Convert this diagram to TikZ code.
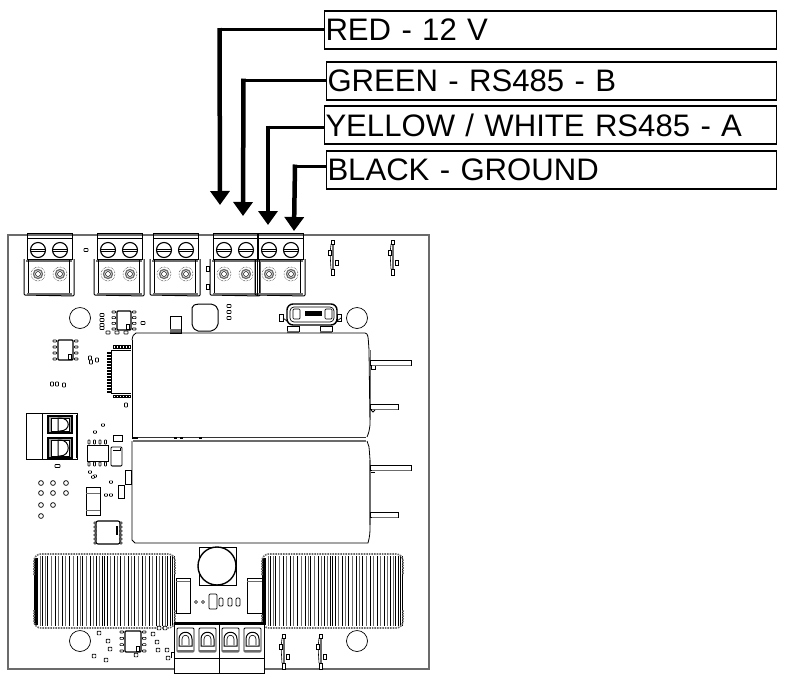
\documentclass[tikz,border=0pt]{standalone}
\usepackage{fontspec}
\setmainfont{Liberation Sans}
\usepackage{tikz}
\usetikzlibrary{arrows.meta, positioning, calc}
\definecolor{frameGray}{gray}{0.42}
\tikzset{
    labelbox/.style={draw,line width=1.6pt,rectangle,anchor=west,outer sep=0pt,minimum width=452,minimum height=38,inner xsep=0.5pt,inner ysep=1pt,text width=450,align=left,font=\fontsize{31.1}{36}\selectfont},
    wire/.style={line width=3pt,-},
    drop/.style={line width=4.5pt,-{Triangle[length=14pt,width=19pt]}},
    part/.style={draw,line width=0.7pt,fill=white},
    pad/.style={draw,line width=0.6pt,fill=white,rounded corners=0.5pt}
}
% two way screw terminal, #1 is the left edge
\newcommand{\termblock}[1]{
    \begin{scope}[shift={(#1,0)}]
        \draw[line width=0.9pt] (0,233) rectangle (45,259);
        \draw[line width=0.8pt] (0,238) -- (45,238);
        \draw[line width=1pt,rounded corners=1pt] (-3,259) -- (-3,295) -- (47,296) -- (47,259);
        \draw[frameGray,line width=2.5pt] (-1,261) -- (45,261);
        \draw[line width=0.7pt] (1,260) -- (1,295) (42,260) -- (42,295);
        \draw[frameGray,line width=1.2pt] (0,294) -- (45,294);
        \foreach \sx in {11,33} {
            \draw[line width=1.1pt] (\sx,250) circle (7.5);
            \draw[line width=1pt] (\sx-7,249) -- (\sx+7,249) (\sx-7,251) -- (\sx+7,251);
            \draw[line width=0.5pt,densely dotted] (\sx,274) circle (7);
            \draw[frameGray,line width=1.3pt] (\sx,274) circle (4.5);
            \draw[line width=0.5pt] (\sx,274) circle (2.5);
        }
    \end{scope}
}
% eight pin chip with pads left and right
\newcommand{\chipside}[5]{
    \draw[line width=1.1pt,rounded corners=1pt] (#1,#2) rectangle (#3,#4);
    \foreach \k in {0,1,2,3} {
        \draw[pad] ({#1-5},{#2+1+\k*(#4-#2-2)/3-1}) rectangle ({#1-1.5},{#2+1+\k*(#4-#2-2)/3+1});
        \draw[pad] ({#3+1.5},{#2+1+\k*(#4-#2-2)/3-1}) rectangle ({#3+5},{#2+1+\k*(#4-#2-2)/3+1});
    }
    \draw[line width=0.5pt] ({#3-5},{#4-6}) rectangle ({#3-2},{#4-1});
}
% winding of the coil, #1 is the left edge
\newcommand{\coil}[1]{
    \begin{scope}[shift={(#1,0)}]
        \foreach \wx in {0,0.9,...,4} \draw[line width=0.6pt] (\wx,558) -- (\wx,625);
        \foreach \wx in {8,13,21,28,35,43,48,56,62,68,70.5,73,80,86,94,100,108,115,122,128,133,136,138,140}
            \draw[line width=0.5pt] (\wx,556) -- (\wx,626);
        \foreach \wx in {6,11,17,24,31,39,46,52,59,65,76,83,90,97,104,111,118,125,131}
            \draw[frameGray,line width=0.6pt] (\wx,556) -- (\wx,626);
        \draw[frameGray,line width=1.6pt,densely dotted,rounded corners=7pt] (0,575) -- (0,554) -- (141,554) -- (141,575);
        \draw[frameGray,line width=1.6pt,densely dotted,rounded corners=7pt] (0,610) -- (0,628) -- (141,628) -- (141,610);
    \end{scope}
}
% small mounted diode on its pads
\newcommand{\diode}[2]{
    \begin{scope}[shift={(#1,#2)}]
        \draw[line width=1.5pt,frameGray] (0,2) -- (0,30);
        \draw[line width=0.6pt] (-2,3) .. controls (-3,12) .. (-2,28);
        \draw[part] (-1.5,-1) rectangle (1.5,3);
        \draw[part] (-5,9) rectangle (-2,14);
        \draw[part] (2,19) rectangle (5,24);
        \draw[part] (-1.5,28) rectangle (1.5,34);
    \end{scope}
}
\begin{document}
\begin{tikzpicture}[x=1pt,y=-1pt]
    \useasboundingbox (0,0) rectangle (788,681);
    \fill[white] (0,0) rectangle (788,681);

    \node[labelbox] (red) at (324.5,30) {RED - 12 V};
    \node[labelbox,minimum width=450,text width=448] (green) at (326.5,81) {GREEN - RS485 - B};
    \node[labelbox] (yellow) at (324.5,125) {YELLOW / WHITE RS485 - A};
    \node[labelbox,minimum width=450,text width=448] (black) at (326.5,170) {BLACK - GROUND};

    \coordinate (redtip) at (220,205);
    \coordinate (greentip) at (243,216);
    \coordinate (yellowtip) at (268,225);
    \coordinate (blacktip) at (294,231);
    \coordinate (redbend) at (219.5,29.5);
    \coordinate (greenbend) at (243.5,80);
    \coordinate (yellowbend) at (268,127);
    \coordinate (blackbend) at (295,166);

    \draw[wire] (red.west |- redbend) -- ($(redbend)+(-1.5,0)$);
    \draw[wire] (green.west |- greenbend) -- ($(greenbend)+(-1.5,0)$);
    \draw[wire] (yellow.west |- yellowbend) -- ($(yellowbend)+(-1.5,0)$);
    \draw[wire] (black.west |- blackbend) -- ($(blackbend)+(-1.5,0)$);
    \draw[drop] ($(redbend)+(0,-1.5)$) -- (redtip);
    \draw[drop] ($(greenbend)+(0,-1.5)$) -- (greentip);
    \draw[drop] ($(yellowbend)+(0,-1.5)$) -- (yellowtip);
    \draw[drop] ($(blackbend)+(0,-1.5)$) -- (blacktip);

    % board
    \draw[frameGray,line width=1.8pt] (8,235) rectangle (429,669);
    \foreach \bx in {27,97,153,213,258} \termblock{\bx}
    \draw[line width=0.8pt] (257.5,233) -- (257.5,296);

    \foreach \hx/\hy in {80/318,357/318,80/641,357/641} \draw[line width=0.7pt] (\hx,\hy) circle (10.5);

    \diode{333}{241} \diode{393}{241} \diode{284}{635} \diode{321}{635}

    % top row parts
    \chipside{117}{311}{131}{330}{icA}
    \chipside{58}{340}{73}{360}{icB}
    \chipside{125}{631}{141}{652}{icC}
    \draw[line width=1pt,rounded corners=2pt] (192,306) -- (197,304) -- (213,304) -- (218,308) -- (218,326) -- (213,331) -- (196,331) -- (192,326) -- cycle;
    \draw[part] (170,316) rectangle (181,333);
    \fill[frameGray] (170,329) rectangle (181,333);
    \foreach \px/\py in {86/250,102/315,102/320,102/325,102/328,229/306,229/312,229/318,143/323} \draw[pad] (\px-2,\py-1.5) rectangle (\px+2,\py+1.5);
    \foreach \px in {108,117,126} \draw[pad] (\px-2,331) rectangle (\px+2,334);
    \foreach \py in {266,284} \draw[part] (206,\py) rectangle (209,\py+5);

    % crystal
    \draw[line width=1.4pt,rounded corners=6pt] (287,304) rectangle (337,325);
    \draw[line width=0.7pt,rounded corners=4pt] (290,307) rectangle (334,322);
    \draw[part,rounded corners=1pt] (293,309) rectangle (300,319);
    \draw[part,rounded corners=1pt] (325,309) rectangle (332,319);
    \fill (305,311) rectangle (322,316);
    \draw[part] (279,314) rectangle (283,321);
    \draw[part] (337,314) rectangle (341,321);
    \draw[line width=0.7pt] (287,321) -- (283,318) (337,321) -- (341,318);
    \foreach \lx in {287,320} {
        \draw[part] (\lx,326) rectangle (\lx+12,331);
        \fill[frameGray] (\lx,331) rectangle (\lx+12,333);
    }

    % film capacitors
    \draw[line width=0.8pt] (132,340) .. controls (133,335) .. (136,333) -- (365,333) .. controls (368,334) .. (369,350) -- (370,425) .. controls (369,432) .. (367,437);
    \draw[frameGray,line width=1pt] (370,350) -- (370,420);
    \draw[line width=0.8pt] (132,340) -- (132,437);
    \draw[line width=1pt,black!80] (133,437) -- (366,437);
    \draw[frameGray,line width=1.4pt] (133,441) -- (366,441);
    \draw[line width=0.8pt] (367,441) .. controls (369,445) .. (370,460) -- (370,520) .. controls (370,535) .. (368,543) -- (135,543) -- (132,540) -- (132,441);
    \draw[frameGray,line width=1.2pt] (370,460) -- (370,525);
    \foreach \py/\pe in {363/411,407/398,468/411,515/398} {
        \draw[line width=0.7pt,fill=white] (370,\py-2.5) rectangle (\pe,\py+2.5);
        \draw[frameGray,line width=0.8pt] (372,\py+2.5) -- (\pe,\py+2.5);
    }
    \draw[line width=0.8pt] (371,366) -- (371,369) -- (375,369) -- (375,366);
    \draw[line width=0.8pt] (371,410) -- (373,412) -- (375,410);
    \draw[line width=0.8pt] (371,472) -- (375,472);
    \foreach \nx/\ny in {132/438,135/438,174/438,180/438,199/438} \fill (\nx,\ny-1) rectangle (\nx+3,\ny+1);

    % driver beside the capacitors
    \draw[line width=0.9pt] (111,351) -- (111,393) -- (131,393);
    \foreach \py in {352,355,...,391} \draw[line width=0.5pt] (107,\py) rectangle (110,\py+1.6);
    \foreach \px in {113,116,...,128} {
        \draw[line width=0.5pt] (\px,345) rectangle (\px+2,348);
        \draw[line width=0.5pt] (\px,395) rectangle (\px+2,397);
    }
    \draw[line width=1pt] (111,350) -- (131,350);
    \foreach \px/\py in {90/358,91/362,97/360,64/385,57/384,52/384,126/405} \draw[pad] (\px-1.5,\py-2) rectangle (\px+1.5,\py+2);

    % two way plug on the left
    \draw[line width=0.9pt] (26,413) rectangle (77,459);
    \draw[line width=0.9pt] (42,413) -- (42,459);
    \fill (76,415) rectangle (78,458);
    \foreach \sy/\se in {416/433,438/458} {
        \draw[line width=1.1pt,fill=black!35] (48,\sy) rectangle (72,\se);
        \draw[line width=0.6pt,fill=white] (51,\sy+2) rectangle (69,\se-2);
        \draw[line width=1pt] (58,\sy+2) -- (60,\sy+2) .. controls (71,\sy+2) and (71,\se-2) .. (60,\se-2) -- (58,\se-2) -- cycle;
    }
    \draw[pad] (55,464.5) rectangle (60,467.5);

    \foreach \hx/\hy in {41/483,53/483,66/483,41/493,53/493,66/493,41/505,53/505,41/516} \draw[line width=0.7pt] (\hx,\hy) circle (2.4);

    % parts in the middle column
    \draw[line width=1pt] (87,445) rectangle (108,461);
    \foreach \px in {89,94.5,100,105.5} {
        \draw[pad] (\px-1,440) rectangle (\px+1,444);
        \draw[pad] (\px-1,462) rectangle (\px+1,466);
    }
    \draw[line width=1pt] (113,435) rectangle (122,441);
    \draw[line width=0.8pt,rounded corners=1pt] (111,447) rectangle (122,466);
    \fill[frameGray] (112,465) rectangle (121,467);
    \draw[line width=0.8pt] (113,450) -- (120,450) -- (120,448);
    \draw[line width=0.8pt] (86,487) rectangle (100,515);
    \draw[frameGray,line width=0.8pt] (86,493) -- (100,493) (86,510) -- (100,510);
    \draw[part] (118,485) rectangle (124,498);
    \draw[part] (125,470) rectangle (131,484);
    \foreach \px/\py in {95/432,103/425,95/476,90/472,93/477,106/495,111/482,111/495} \draw[pad] (\px-1.5,\py-1.2) rectangle (\px+1.5,\py+1.2);

    % power chip
    \draw[line width=1.1pt,rounded corners=2pt] (96,521) rectangle (120,544);
    \foreach \py in {523,527,531,535,539,543} {
        \draw[pad] (94,\py-1) rectangle (96,\py+1);
        \draw[pad] (120,\py-1) rectangle (122,\py+1);
    }
    \fill (116,526) rectangle (118,535);

    % coils and output stage
    \coil{34} \coil{262}
    \draw[line width=1pt] (199,547) rectangle (236,585);
    \draw[line width=1.4pt,fill=white] (217,566) circle (19);
    \draw[line width=0.8pt,fill=white] (176,578) rectangle (190,613);
    \draw[frameGray,line width=0.8pt] (176,581) -- (190,581);
    \draw[line width=0.8pt,fill=white] (247,578) rectangle (262,613);
    \draw[frameGray,line width=0.8pt] (247,581) -- (262,581);
    \draw[part,rounded corners=1pt] (209,594) rectangle (217,609);
    \foreach \px in {221,230,238} \draw[part,rounded corners=1pt] (\px-2,598) rectangle (\px+2,606);
    \foreach \px in {196,203} \draw[line width=0.6pt] (\px,602) circle (1.5);

    % bottom connector
    \draw[line width=0.9pt,fill=white] (174,624) rectangle (264,673);
    \fill (174,622) rectangle (264,624);
    \draw[line width=0.9pt] (219,624) -- (219,673);
    \draw[line width=0.6pt] (174,658) -- (264,658);
    \draw[line width=0.6pt] (171,658) -- (171,652) -- (174,652);
    \foreach \sx in {177,199,222,244} {
        \draw[line width=0.8pt,rounded corners=1pt] (\sx,628) rectangle (\sx+17,652);
        \fill[frameGray] (\sx,650) rectangle (\sx+17,652);
        \draw[line width=1pt] (\sx+2,646) -- (\sx+2,639) .. controls (\sx+2,630) and (\sx+15,630) .. (\sx+15,639) -- (\sx+15,646) -- cycle;
        \draw[line width=0.6pt] (\sx+5,645) -- (\sx+5,639) .. controls (\sx+5,634) and (\sx+12,634) .. (\sx+12,639) -- (\sx+12,645);
    }

    % loose pads near the bottom chip
    \foreach \px/\py in {99/633,108/641,110/649,94/656,106/660,153/634,157/642,158/650,167/650,159/628,165/628,136/655,168/658} \draw[pad] (\px-1.8,\py-1.8) rectangle (\px+1.8,\py+1.8);
\end{tikzpicture}
\end{document}
